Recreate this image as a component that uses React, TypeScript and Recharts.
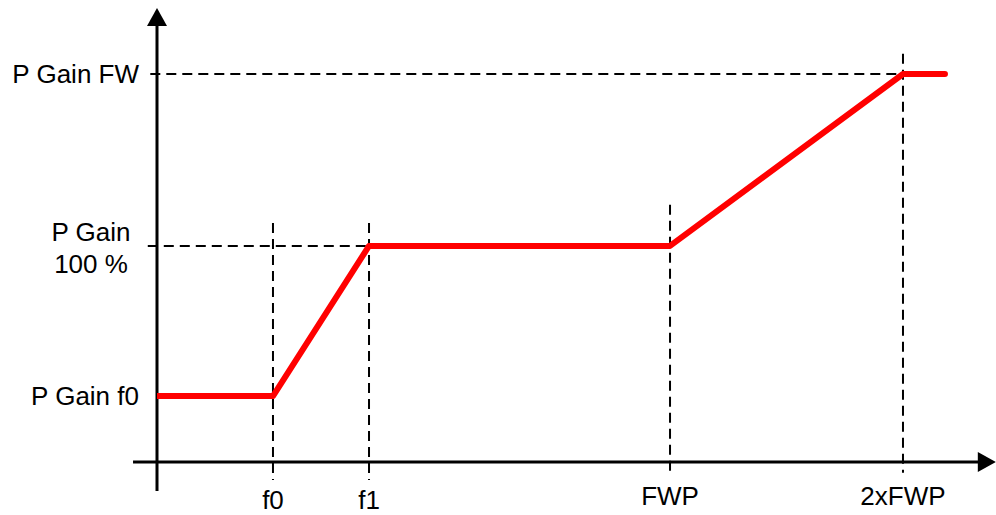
import { LineChart, Line, XAxis, YAxis, ReferenceLine } from "recharts"

// breakpoints of the gain curve (arbitrary frequency units, 0..100 across the plot)
const pointNames = ["start", "f0", "f1", "FWP", "2xFWP", "end"]
const freqValues = [0, 13.84, 25.3, 61.22, 89.02, 94.03]
const gainValues = [14.6, 14.6, 47.8, 47.8, 85.84, 85.84]

const xTickLabels = ["f0", "f1", "FWP", "2xFWP"]
const xTickValues = [13.84, 25.3, 61.22, 89.02]

const yTickLabels = ["P Gain f0", "P Gain\n100 %", "P Gain FW"]
const yTickValues = [14.6, 47.8, 85.84]

const data = pointNames.map((name, i) => ({
  name,
  freq: freqValues[i],
  gain: gainValues[i],
}))

const FONT = "Arial, 'Liberation Sans', sans-serif"
const W = 996
const H = 515

/* axis line with a filled arrow head at (x2, y2) */
function ArrowAxis(props: { x1?: number; y1?: number; x2?: number; y2?: number }) {
  const x1 = props.x1 ?? 0
  const y1 = props.y1 ?? 0
  const x2 = props.x2 ?? 0
  const y2 = props.y2 ?? 0
  const len = Math.hypot(x2 - x1, y2 - y1) || 1
  const ux = (x2 - x1) / len
  const uy = (y2 - y1) / len
  const headL = 18
  const headW = 10
  const bx = x2 - ux * headL
  const by = y2 - uy * headL
  const pts = [
    [x2, y2],
    [bx - uy * headW, by + ux * headW],
    [bx + uy * headW, by - ux * headW],
  ]
    .map((p) => p.join(","))
    .join(" ")
  return (
    <g>
      <line x1={x1} y1={y1} x2={bx + ux * 2} y2={by + uy * 2} stroke="#000" strokeWidth={3} />
      <polygon points={pts} fill="#000" />
    </g>
  )
}

function XTick(props: { x?: number; index?: number }) {
  const i = props.index ?? 0
  // f0 / f1 sit a little lower than FWP labels in the original
  const baseline = i < 2 ? 509 : 505
  return (
    <text x={props.x} y={baseline} textAnchor="middle" fontFamily={FONT} fontSize={26} fill="#000">
      {xTickLabels[i]}
    </text>
  )
}

function YTick(props: { y?: number; index?: number }) {
  const i = props.index ?? 0
  const y = props.y ?? 0
  const lines = yTickLabels[i].split("\n")
  if (lines.length > 1) {
    return (
      <text x={91} y={y - 5} textAnchor="middle" fontFamily={FONT} fontSize={26} fill="#000">
        {lines.map((l, k) => (
          <tspan key={k} x={91} dy={k === 0 ? 0 : 32}>
            {l}
          </tspan>
        ))}
      </text>
    )
  }
  return (
    <text x={139} y={y + 9} textAnchor="end" fontFamily={FONT} fontSize={26} fill="#000">
      {lines[0]}
    </text>
  )
}

const dash = { stroke: "#000", strokeWidth: 2, strokeDasharray: "10 6", ifOverflow: "visible" as const }

export default function App() {
  const [, f0, f1, fwp, fwp2, fEnd] = freqValues
  const [, g100, gFW] = yTickValues
  return (
    <div style={{ position: "absolute", left: 0, top: 0, width: W, height: H, background: "#fff" }}>
      <LineChart width={W} height={H} data={data} margin={{ top: 10, right: 1, bottom: 0, left: 0 }}>
        <XAxis
          dataKey="freq"
          type="number"
          domain={[0, 100]}
          ticks={xTickValues}
          interval={0}
          axisLine={false}
          tickLine={false}
          height={53}
          tick={<XTick />}
          allowDataOverflow
        />
        <YAxis
          type="number"
          domain={[0, 100]}
          ticks={yTickValues}
          interval={0}
          axisLine={false}
          tickLine={false}
          width={157}
          tick={<YTick />}
          allowDataOverflow
        />

        {/* dashed guides */}
        <ReferenceLine segment={[{ x: -0.8, y: gFW }, { x: fEnd, y: gFW }]} {...dash} />
        <ReferenceLine segment={[{ x: -1.1, y: g100 }, { x: fwp, y: g100 }]} {...dash} />
        <ReferenceLine segment={[{ x: f0, y: 52.9 }, { x: f0, y: -4 }]} {...dash} />
        <ReferenceLine segment={[{ x: f1, y: 52.9 }, { x: f1, y: -4 }]} {...dash} />
        <ReferenceLine segment={[{ x: fwp, y: 56.9 }, { x: fwp, y: -2.4 }]} {...dash} />
        <ReferenceLine segment={[{ x: fwp2, y: 90.3 }, { x: fwp2, y: -2.4 }]} {...dash} />

        {/* axes with arrows */}
        <ReferenceLine
          segment={[{ x: 0, y: -6.4 }, { x: 0, y: 100.45 }]}
          ifOverflow="visible"
          shape={<ArrowAxis />}
        />
        <ReferenceLine
          segment={[{ x: -2.86, y: 0 }, { x: 100.1, y: 0 }]}
          ifOverflow="visible"
          shape={<ArrowAxis />}
        />

        <Line
          type="linear"
          dataKey="gain"
          stroke="#ff0000"
          strokeWidth={6}
          strokeLinecap="round"
          strokeLinejoin="round"
          dot={false}
          activeDot={false}
          isAnimationActive={false}
        />
      </LineChart>
    </div>
  )
}
